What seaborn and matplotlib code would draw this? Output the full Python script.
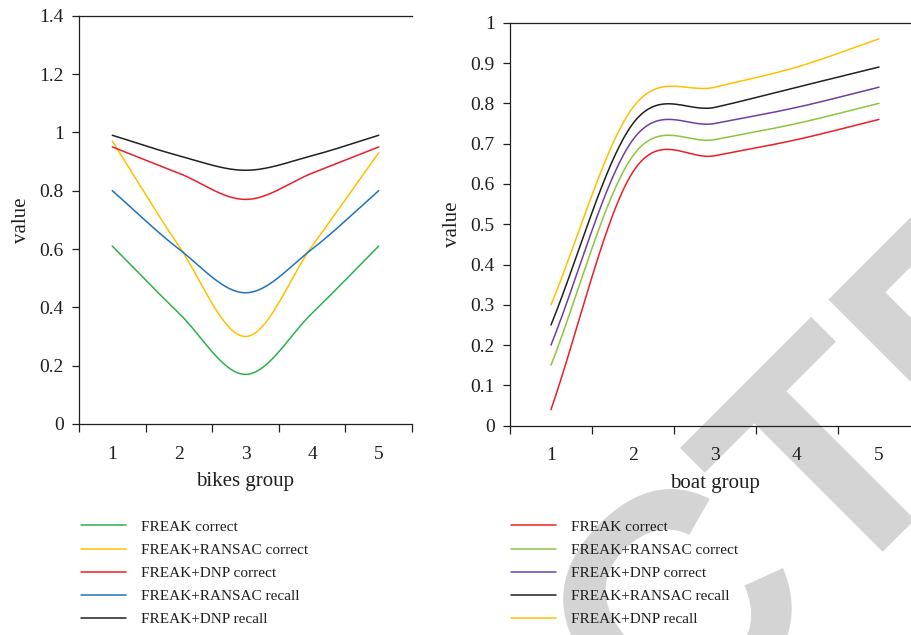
import numpy as np
import pandas as pd
import matplotlib
matplotlib.use("Agg")
import matplotlib.pyplot as plt
from matplotlib.ticker import FixedLocator, FuncFormatter
from matplotlib.textpath import TextPath, text_to_path
from matplotlib.font_manager import FontProperties
from matplotlib.patches import PathPatch
from matplotlib.transforms import Affine2D
import seaborn as sns

# ---- data -------------------------------------------------------------
groups = [1, 2, 3, 4, 5]

bikes_series = ["FREAK correct", "FREAK+RANSAC correct", "FREAK+DNP correct",
                "FREAK+RANSAC recall", "FREAK+DNP recall"]
bikes_freak_correct = [0.61, 0.38, 0.17, 0.38, 0.61]
bikes_ransac_correct = [0.97, 0.61, 0.30, 0.61, 0.93]
bikes_dnp_correct = [0.95, 0.86, 0.77, 0.86, 0.95]
bikes_ransac_recall = [0.80, 0.60, 0.45, 0.60, 0.80]
bikes_dnp_recall = [0.99, 0.92, 0.87, 0.92, 0.99]

boat_series = ["FREAK correct", "FREAK+RANSAC correct", "FREAK+DNP correct",
               "FREAK+RANSAC recall", "FREAK+DNP recall"]
boat_freak_correct = [0.04, 0.63, 0.67, 0.71, 0.76]
boat_ransac_correct = [0.15, 0.67, 0.71, 0.75, 0.80]
boat_dnp_correct = [0.20, 0.71, 0.75, 0.79, 0.84]
boat_ransac_recall = [0.25, 0.75, 0.79, 0.84, 0.89]
boat_dnp_recall = [0.30, 0.79, 0.84, 0.89, 0.96]

bikes_colors = ["#2bb24c", "#ffc000", "#ee1d25", "#1f73be", "#231f20"]
boat_colors = ["#ee1d25", "#8cc63f", "#6f3fa0", "#231f20", "#ffc000"]

bikes_ticks = [0, 0.2, 0.4, 0.6, 0.8, 1.0, 1.2, 1.4]
boat_ticks = [0, 0.1, 0.2, 0.3, 0.4, 0.5, 0.6, 0.7, 0.8, 0.9, 1.0]


def smooth_curve(xs, ys, steps=60):
    """Catmull-Rom style smoothing through every point (spreadsheet 'smoothed line')."""
    xs = np.asarray(xs, float)
    ys = np.asarray(ys, float)
    xe = np.concatenate([[2 * xs[0] - xs[1]], xs, [2 * xs[-1] - xs[-2]]])
    ye = np.concatenate([[2 * ys[0] - ys[1]], ys, [2 * ys[-1] - ys[-2]]])
    out_x, out_y = [], []
    for i in range(1, len(xe) - 2):
        t = np.linspace(0, 1, steps, endpoint=(i == len(xe) - 3))
        h00 = 2 * t**3 - 3 * t**2 + 1
        h10 = t**3 - 2 * t**2 + t
        h01 = -2 * t**3 + 3 * t**2
        h11 = t**3 - t**2
        for src, dst in ((xe, out_x), (ye, out_y)):
            m0 = (src[i + 1] - src[i - 1]) / 2
            m1 = (src[i + 2] - src[i]) / 2
            dst.extend(h00 * src[i] + h10 * m0 + h01 * src[i + 1] + h11 * m1)
    return np.array(out_x), np.array(out_y)


def build_frame(names, columns):
    frames = []
    for name, vals in zip(names, columns):
        sx, sy = smooth_curve(groups, vals)
        frames.append(pd.DataFrame({"group": sx, "value": sy, "series": name}))
    return pd.concat(frames, ignore_index=True)


bikes_df = build_frame(bikes_series, [bikes_freak_correct, bikes_ransac_correct,
                                      bikes_dnp_correct, bikes_ransac_recall,
                                      bikes_dnp_recall])
boat_df = build_frame(boat_series, [boat_freak_correct, boat_ransac_correct,
                                    boat_dnp_correct, boat_ransac_recall,
                                    boat_dnp_recall])

# ---- style -------------------------------------------------------------
sns.set_theme(style="white")
plt.rcParams["font.family"] = ["Liberation Serif", "DejaVu Serif"]
ink = "#231f20"
plt.rcParams.update({
    "axes.edgecolor": ink, "axes.labelcolor": ink,
    "xtick.color": ink, "ytick.color": ink, "text.color": ink,
    "axes.linewidth": 0.9,
})

W, H = 911, 635
fig = plt.figure(figsize=(W / 100, H / 100), dpi=100)

# faint "RETRACTED" stamp running diagonally behind the panels
stamp_word = "RETRACTED"
stamp_prop = FontProperties(family="Liberation Sans", weight="bold", size=315)
stamp_path = TextPath((0, 0), stamp_word, prop=stamp_prop)
lead_w, _, _ = text_to_path.get_text_width_height_descent(stamp_word[:6], stamp_prop, ismath=False)
t_ext = TextPath((0, 0), "T", prop=stamp_prop).get_extents()
u0, v0 = lead_w + t_ext.x0, t_ext.y1
c = s = np.sqrt(0.5)
anchor_x, anchor_y = 680, H - 448
stamp_tf = Affine2D().rotate_deg(45).translate(anchor_x - (c * u0 - s * v0),
                                               anchor_y - (s * u0 + c * v0))
stamp = PathPatch(stamp_path, transform=stamp_tf, facecolor="#d4d4d4",
                  edgecolor="none", zorder=-5)
fig.add_artist(stamp)


def px_axes(x0, x1, ytop, ybot):
    return fig.add_axes([x0 / W, 1 - ybot / H, (x1 - x0) / W, (ybot - ytop) / H])


ax1 = px_axes(79, 412, 15.7, 424)
ax2 = px_axes(510, 920, 22.7, 425.7)


def draw_panel(ax, df, names, colors, yticks, xlabel, legend_x):
    sns.lineplot(data=df, x="group", y="value", hue="series", hue_order=names,
                 palette=dict(zip(names, colors)), estimator=None, sort=False,
                 linewidth=1.1, ax=ax, legend=False)
    ax.set_facecolor("none")
    ax.set_xlim(0.5, 5.5)
    ax.set_ylim(yticks[0], yticks[-1])
    ax.xaxis.set_major_locator(FixedLocator(groups))
    ax.xaxis.set_minor_locator(FixedLocator([g - 0.5 for g in groups] + [groups[-1] + 0.5]))
    ax.yaxis.set_major_locator(FixedLocator(yticks))
    ax.yaxis.set_major_formatter(FuncFormatter(lambda v, p: f"{v:g}"))
    ax.tick_params(axis="x", which="major", length=0, pad=15.5, labelsize=14)
    ax.tick_params(axis="x", which="minor", length=6, width=0.9, direction="out", bottom=True)
    ax.tick_params(axis="y", which="major", length=5, width=0.9, direction="out",
                   left=True, pad=6, labelsize=14)
    ax.spines["right"].set_visible(False)
    ax.set_xlabel(xlabel, fontsize=15, labelpad=7)
    ax.set_ylabel("value", fontsize=15, labelpad=6)
    ax.legend(ax.get_lines(), names, loc="upper left",
              bbox_to_anchor=(legend_x / W, 1 - 520 / H),
              bbox_transform=fig.transFigure, frameon=False, fontsize=11,
              handlelength=2.95, handletextpad=0.95, labelspacing=0.62,
              borderpad=0, borderaxespad=0)


draw_panel(ax1, bikes_df, bikes_series, bikes_colors, bikes_ticks, "bikes group", 81)
draw_panel(ax2, boat_df, boat_series, boat_colors, boat_ticks, "boat group", 511)

fig.savefig("out.png", dpi=100)
